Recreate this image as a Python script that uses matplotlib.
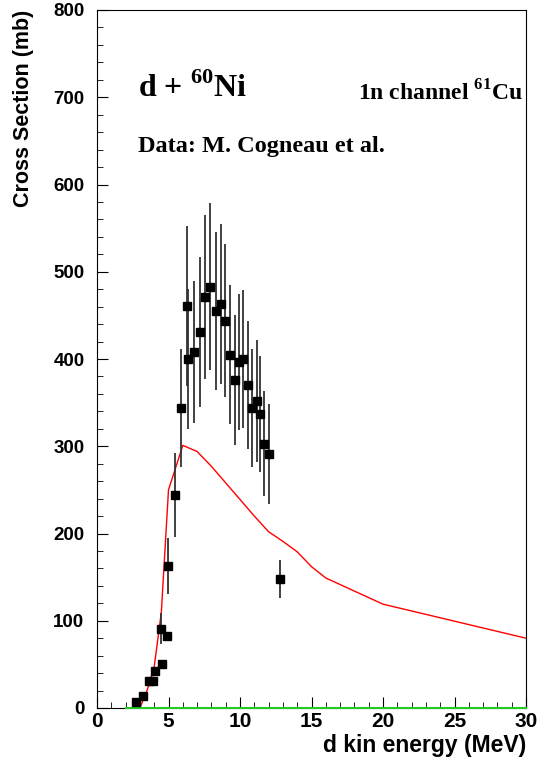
import numpy as np
import matplotlib
matplotlib.use("Agg")
import matplotlib.pyplot as plt
from matplotlib.ticker import MultipleLocator

plt.rcParams['font.family'] = ['Liberation Sans', 'DejaVu Sans']
plt.rcParams['mathtext.fontset'] = 'custom'
plt.rcParams['mathtext.rm'] = 'Liberation Serif:bold'
plt.rcParams['mathtext.bf'] = 'Liberation Serif:bold'

# measured data (Cogneau et al.)
energy = [2.73, 3.22, 3.66, 3.94, 4.03, 4.48, 4.52, 4.87, 4.96, 5.45, 5.87,
          6.27, 6.34, 6.78, 7.18, 7.55, 7.90, 8.30, 8.65, 8.93, 9.30, 9.63,
          9.93, 10.23, 10.58, 10.86, 11.17, 11.42, 11.70, 12.00, 12.80]
xsec = [6.5, 14, 31, 31, 42, 91, 51, 83, 163, 244, 344,
        461, 400, 408, 431, 471, 483, 455, 463, 444, 405, 376,
        397, 400, 370, 344, 352, 337, 303, 291, 148]
xsec_err = [0, 0, 0, 0, 0, 18, 0, 0, 32, 48, 68,
            92, 80, 81, 86, 94, 96, 90, 92, 88, 80, 75,
            78, 79, 73, 68, 70, 67, 60, 57, 22]

# calculation
model_e = [3, 3.5, 4, 4.5, 5, 6, 7, 8, 9, 10, 11, 12, 13, 14, 15, 16, 20, 30]
model_xs = [0, 20, 47, 110, 250, 301, 294, 277, 258, 239, 220, 202, 191, 179,
            162, 149, 119, 80]

fig = plt.figure(figsize=(5.4, 7.61), dpi=100)
ax = fig.add_axes([97/540, 53/761, 429/540, 698/761])

ax.plot(model_e, model_xs, color='red', lw=1.0, zorder=2)
ax.plot([2, 30], [0, 0], color='#22cc22', lw=1.5, zorder=3, clip_on=False)
ax.errorbar(energy, xsec, yerr=xsec_err, fmt='s', color='black', ecolor='#333333',
            ms=6, elinewidth=1.3, capsize=0, zorder=4)

ax.set_xlim(0, 30)
ax.set_ylim(0, 800)
ax.xaxis.set_major_locator(MultipleLocator(5))
ax.xaxis.set_minor_locator(MultipleLocator(1))
ax.yaxis.set_major_locator(MultipleLocator(100))
ax.yaxis.set_minor_locator(MultipleLocator(20))
ax.tick_params(which='both', direction='in')
ax.tick_params(which='major', length=8)
ax.tick_params(which='minor', length=4)
ax.tick_params(axis='x', labelsize=15, pad=3)
ax.tick_params(axis='y', labelsize=13.5, pad=9)
for lab in ax.get_xticklabels() + ax.get_yticklabels():
    lab.set_fontweight('bold')

ax.set_xlabel('d kin energy (MeV)', loc='right', fontsize=16.5, fontweight='bold', labelpad=2)
ax.set_ylabel('Cross Section (mb)', loc='top', fontsize=15.5, fontweight='bold', labelpad=14)

ax.text(0.096, 0.875, r'd + $^{\mathbf{60}}$Ni', transform=ax.transAxes,
        family='Liberation Serif', fontweight='bold', fontsize=23, va='baseline')
ax.text(0.991, 0.871, r'1n channel $^{\mathbf{61}}$Cu', transform=ax.transAxes,
        family='Liberation Serif', fontweight='bold', fontsize=17, ha='right', va='baseline')
ax.text(0.096, 0.797, 'Data: M. Cogneau et al.', transform=ax.transAxes,
        family='Liberation Serif', fontweight='bold', fontsize=17.5, va='baseline')

fig.savefig('out.png', dpi=100)
